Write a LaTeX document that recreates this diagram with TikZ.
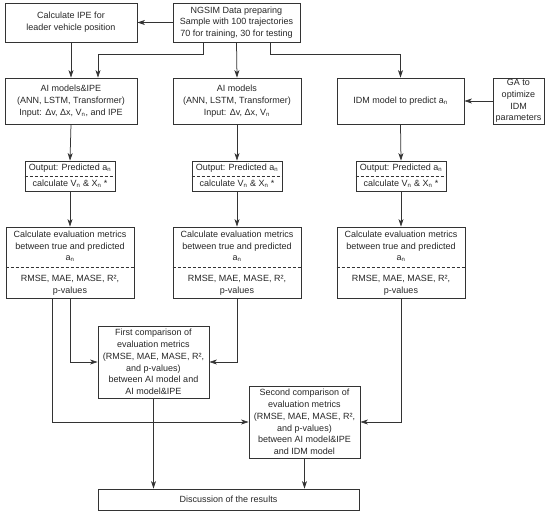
\documentclass[tikz,border=0pt]{standalone}
\usepackage{fontspec}
\setmainfont{Liberation Sans}
\usetikzlibrary{arrows.meta,calc}
\begin{document}
\begin{tikzpicture}[x=1pt,y=-1pt,
  every node/.style={font=\fontsize{9}{11.7}\selectfont, text=black!85, align=center, inner sep=0pt},
  box/.style={draw=black!80, line width=0.75pt, minimum width=#1},
  arr/.style={draw=black!80, line width=0.75pt, -{Stealth[length=7.5pt,width=5pt,inset=2pt]}},
  sep/.style={draw=black!80, line width=0.75pt, dash pattern=on 3pt off 2pt}]
\useasboundingbox (0,0) rectangle (550,515);

% row 1
\node[box=127pt, minimum height=39pt] (ngsim) at (236.5,22.5) {NGSIM Data preparing\\Sample with 100 trajectories\\70 for training, 30 for testing};
\node[box=132pt, minimum height=39pt] (ipe) at (71,22.5) {Calculate IPE for\\leader vehicle position};

% row 2
\node[box=132pt, minimum height=46pt] (aiipe) at (71,101) {AI models\&IPE\\(ANN, LSTM, Transformer)\\Input: Δv, Δx, V\textsubscript{n}, and IPE};
\node[box=128pt, minimum height=46pt] (ai) at (237,101) {AI models\\(ANN, LSTM, Transformer)\\Input: Δv, Δx, V\textsubscript{n}};
\node[box=127pt, minimum height=46pt] (idm) at (400.5,101) {IDM model to predict a\textsubscript{n}};
\node[box=51pt, minimum height=46pt] (ga) at (518.5,101) {GA to\\optimize\\IDM\\parameters};

% row 3 output boxes
\foreach \n/\x in {out1/70, out2/237, out3/401}{
  \node[box=90pt, minimum height=30pt] (\n) at (\x,176) {};
  \node (\n t) at (\x,168.5) {Output: Predicted a\textsubscript{n}};
  \node (\n b) at (\x,183.5) {calculate V\textsubscript{n} \& X\textsubscript{n} *};
  \draw[sep] (\n.west) -- (\n.east);
}

% row 4 evaluation boxes
\foreach \n/\x in {eval1/70, eval2/237, eval3/401}{
  \node[box=128pt, minimum height=71pt] (\n) at (\x,262.5) {};
  \node (\n t) at (\x,246.5) {Calculate evaluation metrics\\between true and predicted\\a\textsubscript{n}};
  \node (\n b) at (\x,285) {RMSE, MAE, MASE, R²,\\p-values};
  \draw[sep] ([yshift=-4.5pt]\n.west) -- ([yshift=-4.5pt]\n.east);
}

% comparisons
\node[box=111pt, minimum height=72pt] (first) at (153.5,362) {First comparison of\\evaluation metrics\\(RMSE, MAE, MASE, R²,\\and p-values)\\between AI model and\\AI model\&IPE};
\node[box=111pt, minimum height=72pt] (second) at (304.5,422) {Second comparison of\\evaluation metrics\\(RMSE, MAE, MASE, R²,\\and p-values)\\between AI model\&IPE\\and IDM model};
\node[box=261pt, minimum height=21pt] (disc) at (228.5,499.5) {Discussion of the results};

% connectors
\draw[arr] (ngsim.west) -- (ipe.east);
\draw[arr] (ipe.south) -- (aiipe.north);
\draw[arr] ([xshift=-33.5pt]ngsim.south) -- ++(0,12) -| ([xshift=27pt]aiipe.north);
\draw[arr] (ngsim.south) -- (ai.north);
\draw[arr] ([xshift=33.5pt]ngsim.south) -- ++(0,12) -| (idm.north);
\draw[arr] (ga.west) -- (idm.east);

\draw[arr] (aiipe.south) -- (out1.north);
\draw[arr] (ai.south) -- (out2.north);
\draw[arr] (idm.south) -- (out3.north);
\draw[arr] (out1.south) -- (eval1.north);
\draw[arr] (out2.south) -- (eval2.north);
\draw[arr] (out3.south) -- (eval3.north);

\draw[arr] (eval1.south) |- (first.west);
\draw[arr] (eval2.south) |- (first.east);
\draw[arr] ([xshift=-18pt]eval1.south) |- (second.west);
\draw[arr] (eval3.south) |- (second.east);
\draw[arr] (first.south) -- (first.south |- disc.north);
\draw[arr] (second.south) -- (second.south |- disc.north);
\end{tikzpicture}
\end{document}
